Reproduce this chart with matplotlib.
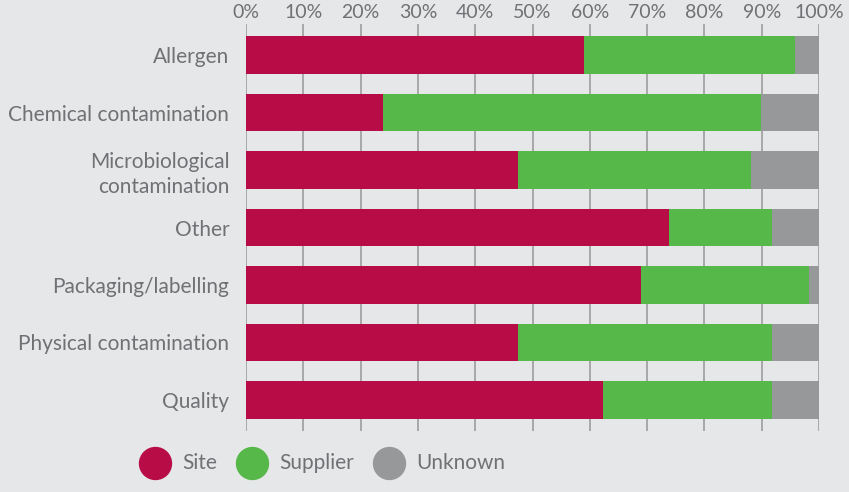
import matplotlib.pyplot as plt

# Data (percent of incidents by origin)
categories = ['Allergen', 'Chemical contamination', 'Microbiological\ncontamination',
              'Other', 'Packaging/labelling', 'Physical contamination', 'Quality']
site = [59.0, 23.9, 47.5, 73.8, 68.9, 47.5, 62.3]
supplier = [36.8, 66.0, 40.6, 18.0, 29.4, 44.3, 29.5]
unknown = [4.2, 10.1, 11.9, 8.2, 1.7, 8.2, 8.2]
series_names = ['Site', 'Supplier', 'Unknown']
tick_vals = list(range(0, 101, 10))

colors = ['#b80c47', '#55b848', '#97989a']
bg = '#e6e7e8'
txt = '#707174'

plt.rcParams['font.family'] = ['Lato', 'DejaVu Sans']

fig = plt.figure(figsize=(8.49, 4.92), dpi=100, facecolor=bg)
ax = fig.add_axes([246/849, 1 - 431/492, (819 - 246)/849, (431 - 24)/492])
ax.set_facecolor(bg)

y = list(range(len(categories)))
left3 = [a + b for a, b in zip(site, supplier)]
ax.barh(y, site, height=0.66, color=colors[0], zorder=2)
ax.barh(y, supplier, left=site, height=0.66, color=colors[1], zorder=2)
ax.barh(y, unknown, left=left3, height=0.66, color=colors[2], zorder=2)

ax.set_xlim(0, 100)
ax.set_ylim(6.54, -0.54)
ax.set_xticks(tick_vals)
ax.set_xticklabels([f'{v}%' for v in tick_vals])
ax.xaxis.tick_top()
ax.tick_params(axis='x', length=0, pad=2, labelsize=14, labelcolor=txt)
ax.set_yticks(y)
ax.set_yticklabels(categories, fontsize=15, color=txt, linespacing=1.3)
ax.tick_params(axis='y', length=0, pad=12)
ax.grid(axis='x', color='#a3a3a3', linewidth=1.3, zorder=0)
ax.set_axisbelow(True)
for s in ax.spines.values():
    s.set_visible(False)

# legend: circles with labels along the bottom
leg_y = 1 - 463/492
leg_x = [155, 252, 389]
for c, name, x in zip(colors, series_names, leg_x):
    fig.lines.append(plt.Line2D([x/849], [leg_y], marker='o', markersize=23,
                                markerfacecolor=c, markeredgecolor=c,
                                transform=fig.transFigure, figure=fig))
    fig.text((x + 27)/849, leg_y, name, fontsize=15, color=txt,
             va='center', ha='left')

fig.savefig('out.png', dpi=100, facecolor=bg)
